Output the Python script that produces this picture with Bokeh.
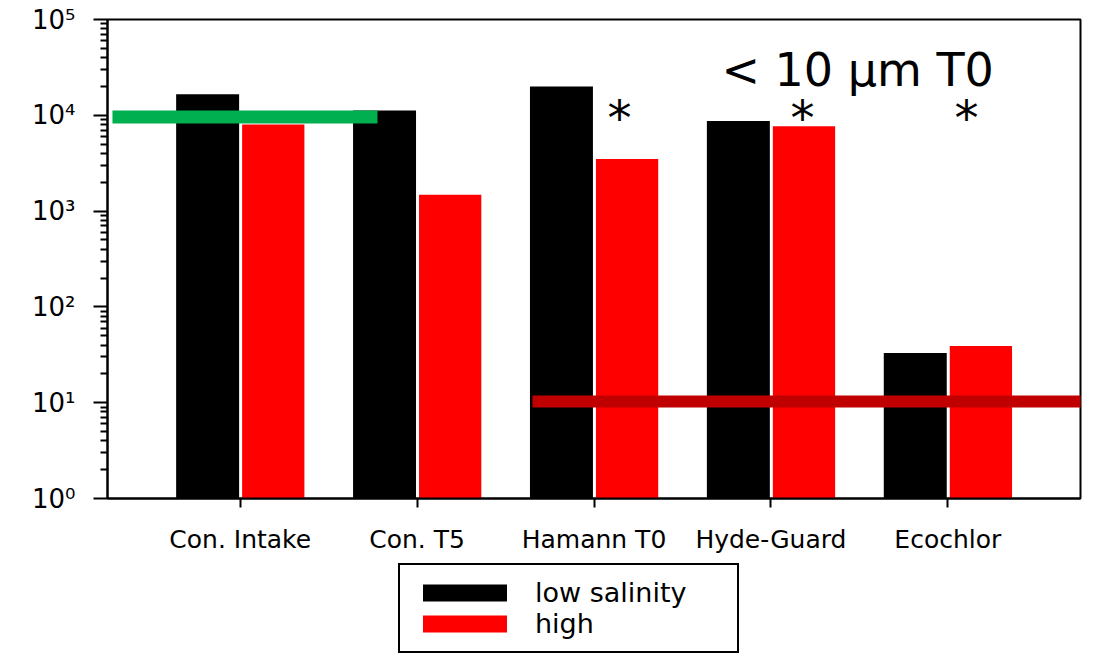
import numpy as np
from bokeh.plotting import figure
from bokeh.layouts import column
from bokeh.models import FixedTicker, Legend, LegendItem
from bokeh.core.properties import value
from bokeh.embed import file_html
from bokeh.resources import INLINE

# ---------------- data ----------------
categories = ["Con. Intake", "Con. T5", "Hamann T0", "Hyde-Guard", "Ecochlor"]
low_salinity = [16600, 11200, 20000, 8700, 33]
high_salinity = [8000, 1480, 3500, 7700, 39]
series_names = ["low salinity", "high"]
y_tick_values = [1, 10, 100, 1000, 10000, 100000]
y_tick_labels = ["10\u2070", "10\u00b9", "10\u00b2", "10\u00b3", "10\u2074", "10\u2075"]
green_level = 9600
red_level = 10.3
annotation_text = "< 10 \u03bcm T0"

FONT = "DejaVu Sans"
BLACK, RED = "black", "#FF0000"

x = np.arange(len(categories))

p = figure(width=1096, height=560, output_backend="svg", toolbar_location=None,
           y_axis_type="log", x_range=(-0.75, 4.75), y_range=(1, 1e5),
           min_border_left=107, min_border_right=16, min_border_top=19,
           min_border_bottom=62)
p.background_fill_color = "white"
p.border_fill_color = "white"
p.outline_line_color = "black"
p.outline_line_width = 2
p.xgrid.visible = False
p.ygrid.visible = False

p.vbar(x=x - 0.184, top=low_salinity, bottom=1, width=0.356,
       fill_color=BLACK, line_color=None)
p.vbar(x=x + 0.187, top=high_salinity, bottom=1, width=0.352,
       fill_color=RED, line_color=None)

# reference lines
p.segment(x0=[-0.722], x1=[0.776], y0=[green_level], y1=[green_level],
          line_color="#00B050", line_width=13, line_cap="butt")
p.segment(x0=[1.652], x1=[4.767], y0=[red_level], y1=[red_level],
          line_color="#C00000", line_width=12, line_cap="butt")

# annotation text
p.text(x=[3.49], y=[30000], text=[annotation_text], text_align="center",
       text_baseline="alphabetic", text_font=value(FONT),
       text_font_size="46px", text_color="black")
star_x = [2.144, 3.179, 4.106]
p.text(x=star_x, y=[9480] * len(star_x), text=["*"] * len(star_x),
       text_align="center", text_baseline="alphabetic", text_font=value(FONT),
       text_font_size="48px", text_color="black")

# axes
xa = p.xaxis[0]
xa.ticker = FixedTicker(ticks=list(x))
xa.major_label_overrides = {int(i): c for i, c in zip(x, categories)}
xa.major_label_text_font = FONT
xa.major_label_text_font_size = "25px"
xa.major_label_text_color = "black"
xa.major_tick_out = 9
xa.major_tick_in = 0
xa.minor_tick_line_color = None
xa.axis_line_width = 2
xa.major_tick_line_width = 2
xa.major_label_standoff = 17

ya = p.yaxis[0]
minor = [k * d for d in y_tick_values[:-1] for k in range(2, 10)]
ya.ticker = FixedTicker(ticks=y_tick_values, minor_ticks=minor)
ya.major_label_overrides = {v: l for v, l in zip(y_tick_values, y_tick_labels)}
ya.major_label_text_font = FONT
ya.major_label_text_font_size = "26px"
ya.major_label_text_color = "black"
ya.major_tick_out = 14
ya.major_tick_in = 0
ya.minor_tick_out = 7
ya.minor_tick_in = 0
ya.axis_line_width = 2
ya.major_tick_line_width = 2
ya.minor_tick_line_width = 2
ya.major_label_standoff = 18

# ---------------- legend strip below the chart ----------------
q = figure(width=1096, height=93, output_backend="svg", toolbar_location=None,
           x_range=(-0.75, 4.75), y_range=(1, 2), min_border=0,
           x_axis_location=None, y_axis_location=None)
q.outline_line_color = None
q.xgrid.visible = False
q.ygrid.visible = False
q.background_fill_color = None
q.border_fill_color = None
r_low = q.vbar(x=x, top=low_salinity, bottom=0, width=0.356,
               fill_color=BLACK, line_color=None, visible=False)
r_high = q.vbar(x=x, top=high_salinity, bottom=0, width=0.352,
                fill_color=RED, line_color=None, visible=False)

legend = Legend(items=[LegendItem(label=series_names[0], renderers=[r_low]),
                       LegendItem(label=series_names[1], renderers=[r_high])],
                location=(291, 0), orientation="vertical",
                glyph_width=105, glyph_height=21, label_standoff=18,
                label_text_font=FONT, label_text_font_size="27px",
                label_text_color="black",
                label_width=190, padding=12, spacing=0, margin=0,
                border_line_color="black", border_line_width=2,
                border_line_alpha=1.0, inactive_fill_alpha=0.0,
                background_fill_color="white", background_fill_alpha=1.0)
q.add_layout(legend, "center")

layout = column(p, q, spacing=0)
open("out.html", "w").write(file_html(layout, INLINE))
